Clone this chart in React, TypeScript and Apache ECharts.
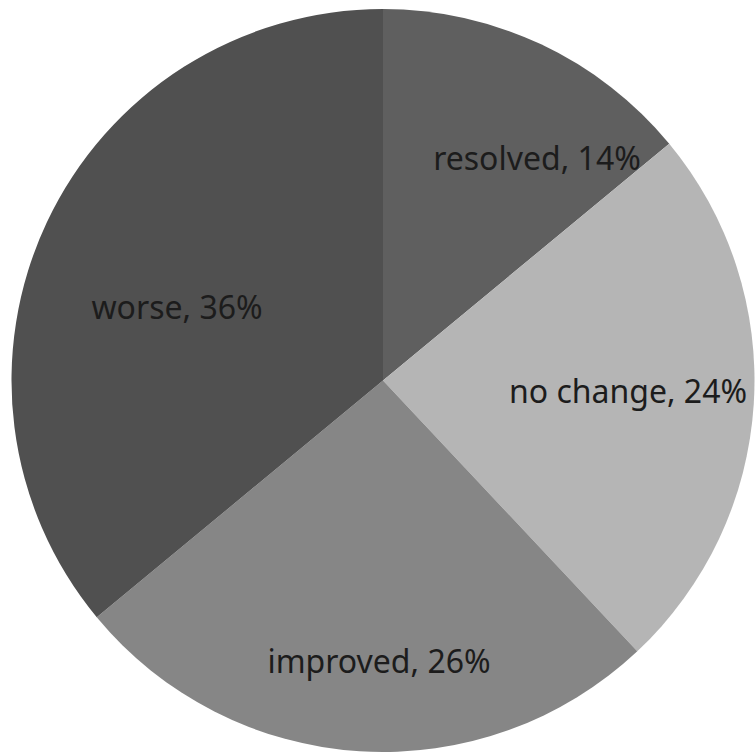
import React, { useEffect, useRef } from "react";
import * as echarts from "echarts";

// Outcome categories and their shares (percent)
const categories = ["resolved", "no change", "improved", "worse"];
const shares = [14, 24, 26, 36];
const sliceColors = ["#5f5f5f", "#b5b5b5", "#868686", "#505050"];

// Label anchor points (px) for each slice, placed in the roomy part of the slice
const labelAnchors: [number, number][] = [
  [537, 157],
  [628, 390],
  [379, 660],
  [177, 306],
];

export default function App() {
  const ref = useRef<HTMLDivElement>(null);

  useEffect(() => {
    if (!ref.current) return;
    const chart = echarts.init(ref.current, null, { renderer: "svg" });
    chart.setOption({
      animation: false,
      backgroundColor: "#ffffff",
      series: [
        {
          type: "pie",
          center: [383, 380.5],
          radius: [0, 371.5],
          startAngle: 90,
          clockwise: true,
          avoidLabelOverlap: false,
          itemStyle: { borderWidth: 0 },
          label: {
            show: true,
            position: "inside",
            formatter: "{b}, {c}%",
            color: "#1c1c1c",
            fontFamily: "Noto Sans",
            fontSize: 32,
          },
          labelLine: { show: false },
          labelLayout: (p: any) => {
            const a = labelAnchors[p.dataIndex];
            return { x: a[0], y: a[1], align: "center", verticalAlign: "middle" };
          },
          emphasis: { disabled: true },
          data: categories.map((name, i) => ({
            name,
            value: shares[i],
            itemStyle: { color: sliceColors[i] },
          })),
        },
      ],
    });
    return () => chart.dispose();
  }, []);

  return (
    <div
      ref={ref}
      style={{ position: "fixed", left: 0, top: 0, width: 756, height: 756 }}
    />
  );
}
